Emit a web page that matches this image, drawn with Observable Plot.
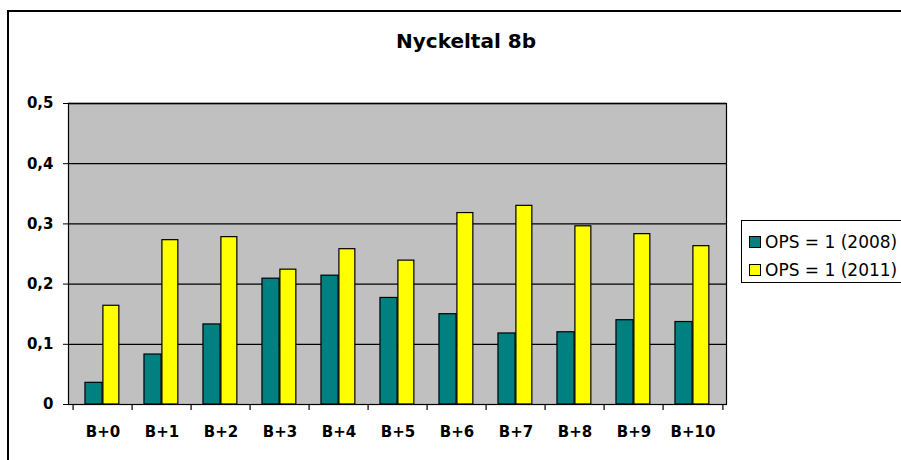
<!DOCTYPE html>
<html>
<head>
<meta charset="utf-8">
<script src="https://cdn.jsdelivr.net/npm/d3@7"></script>
<script src="https://cdn.jsdelivr.net/npm/@observablehq/plot@0.6"></script>
<style>
  html, body { margin: 0; padding: 0; background: #fff; }
  #wrap { position: relative; width: 901px; height: 460px; overflow: hidden; background: #fff; }
  #border { position: absolute; left: 7px; top: 10px; width: 1000px; height: 1000px; border: 2px solid #000; box-sizing: border-box; }
  #chart { position: absolute; left: 0; top: 0; }
  #title { position: absolute; left: 266px; width: 400px; top: 31px; text-align: center; font: bold 20px/20px "DejaVu Sans", sans-serif; color: #000; }
  #legend { position: absolute; left: 741px; top: 220px; width: 200px; height: 63px; border: 1px solid #000; box-sizing: border-box; background: #fff; font: 17px "DejaVu Sans", sans-serif; color: #000; }
  .item { position: absolute; left: 7px; height: 20px; display: flex; align-items: center; white-space: nowrap; }
  .sw { width: 12px; height: 12px; border: 1px solid #000; box-sizing: border-box; margin-right: 4px; }
</style>
</head>
<body>
<div id="wrap">
  <div id="border"></div>
  <div id="chart"></div>
  <div id="title">Nyckeltal 8b</div>
  <div id="legend"></div>
</div>
<script>
const categories = ["B+0","B+1","B+2","B+3","B+4","B+5","B+6","B+7","B+8","B+9","B+10"];
const seriesNames = ["OPS = 1 (2008)", "OPS = 1 (2011)"];
const values2008 = [0.036, 0.083, 0.133, 0.209, 0.214, 0.177, 0.150, 0.118, 0.120, 0.140, 0.137];
const values2011 = [0.164, 0.273, 0.278, 0.224, 0.258, 0.239, 0.318, 0.330, 0.296, 0.283, 0.263];
const yTicks = [0, 0.1, 0.2, 0.3, 0.4, 0.5];
const colors = ["#008080", "#FFFF00"];

const d2008 = categories.map((c, i) => ({cat: c, value: values2008[i]}));
const d2011 = categories.map((c, i) => ({cat: c, value: values2011[i]}));

const W = 901, H = 460, mL = 68, mR = 175, mT = 103, mB = 56;
const bw = (W - mL - mR) / categories.length;

const chart = Plot.plot({
  width: W,
  height: H,
  marginLeft: mL,
  marginRight: mR,
  marginTop: mT,
  marginBottom: mB,
  style: {fontFamily: "DejaVu Sans, sans-serif", fontSize: "15px", fontWeight: "bold", color: "#000", background: "transparent"},
  x: {domain: categories, padding: 0, type: "band"},
  y: {domain: [0, 0.5]},
  marks: [
    Plot.frame({fill: "#C0C0C0", stroke: null}),
    Plot.ruleY(yTicks.filter(d => d > 0), {stroke: "#000", strokeWidth: 1.3}),
    Plot.barY(d2008, {x: "cat", y: "value", fill: colors[0], stroke: "#000", strokeWidth: 1.2, insetLeft: bw * 0.2, insetRight: bw * 0.5}),
    Plot.barY(d2011, {x: "cat", y: "value", fill: colors[1], stroke: "#000", strokeWidth: 1.2, insetLeft: bw * 0.5, insetRight: bw * 0.22}),
    Plot.frame({stroke: "#000", strokeWidth: 1.2}),
    Plot.ruleX(categories, {x: d => d, dx: -bw / 2, y1: 0, y2: 0, insetBottom: -6, stroke: "#000", strokeWidth: 1.2}),
    Plot.ruleX(categories.slice(-1), {x: d => d, dx: bw / 2, y1: 0, y2: 0, insetBottom: -6, stroke: "#000", strokeWidth: 1.2}),
    Plot.axisY({ticks: yTicks, tickSize: 5, tickPadding: 10, tickFormat: d => d === 0 ? "0" : d.toFixed(1).replace(".", ","), label: null, fontSize: 15, fontWeight: "bold", stroke: "#000"}),
    Plot.axisX({tickSize: 0, tickPadding: 22, label: null, fontSize: 15, fontWeight: "bold"})
  ]
});
document.getElementById("chart").appendChild(chart);

const legend = document.getElementById("legend");
seriesNames.forEach((name, i) => {
  const item = document.createElement("div");
  item.className = "item";
  item.style.top = (11 + i * 28) + "px";
  const sw = document.createElement("div");
  sw.className = "sw";
  sw.style.background = colors[i];
  item.appendChild(sw);
  const t = document.createElement("span");
  t.textContent = name;
  item.appendChild(t);
  legend.appendChild(item);
});
</script>
</body>
</html>
